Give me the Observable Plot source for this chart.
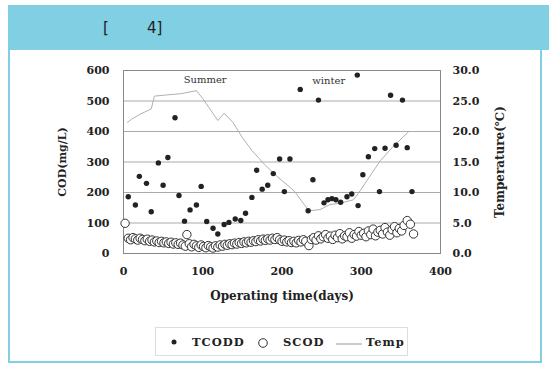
<!DOCTYPE html>
<html>
<head>
<meta charset="utf-8">
<script src="https://cdn.jsdelivr.net/npm/d3@7"></script>
<script src="https://cdn.jsdelivr.net/npm/@observablehq/plot@0.6"></script>
<style>
  body { margin:0; width:549px; height:369px; position:relative; background:#fff; overflow:hidden; }
  #box { position:absolute; left:8px; top:5px; width:534px; height:358px; border:2px solid #80cfe3; box-sizing:border-box; }
  #hdr { position:absolute; left:8px; top:5px; width:541px; height:45px; background:#80cfe3; }
  #hdr span { position:absolute; left:95px; top:14px; font-family:"DejaVu Sans", sans-serif; font-size:15px; color:#222; white-space:pre; }
  #chart { position:absolute; left:0; top:50px; }
  #legend { position:absolute; left:155px; top:327px; width:253px; height:29px; border:1px solid #ddd; box-sizing:border-box;
            font-family:"DejaVu Serif", serif; font-weight:bold; font-size:11.5px; letter-spacing:1px; color:#222; }
  #legend .it { position:absolute; top:7px; }
</style>
</head>
<body>
<div id="box"></div>
<div id="hdr"><span>[        4]</span></div>
<div id="chart"></div>
<div id="legend">
  <svg class="it" style="left:14px;top:10px" width="8" height="8"><circle cx="4" cy="4" r="2.5" fill="#222"/></svg>
  <span class="it" style="left:36px">TCODD</span>
  <svg class="it" style="left:101px;top:9px" width="12" height="12"><circle cx="6" cy="6" r="4.3" fill="#fff" stroke="#333"/></svg>
  <span class="it" style="left:127px">SCOD</span>
  <svg class="it" style="left:180px;top:10px" width="28" height="8"><line x1="0" y1="6" x2="26" y2="6" stroke="#999"/></svg>
  <span class="it" style="left:210px">Temp</span>
</div>
<script>
// ---- data ----
const xTicks = [0, 100, 200, 300, 400];
const codTicks = [0, 100, 200, 300, 400, 500, 600];

const tcoddDays = [6,15,20,29,35,44,50,56,65,70,77,84,92,98,105,113,119,127,133,141,148,154,162,168,175,182,189,197,203,210,223,233,239,246,253,258,263,268,274,282,288,295,296,302,309,317,323,330,337,344,352,358,364];
const tcoddVals = [186,159,253,230,137,297,224,315,445,190,106,143,159,220,105,83,64,95,102,113,108,132,184,273,211,224,262,310,203,310,538,140,242,503,166,176,180,176,168,186,195,585,157,258,317,344,203,345,519,355,503,347,203];

const scodDays = [2,6,9,12,15,18,21,24,27,30,33,36,39,42,45,48,51,54,57,60,63,66,69,72,75,78,80,83,86,89,92,95,98,101,104,107,110,113,116,119,122,125,128,131,134,137,140,143,146,149,152,155,158,161,164,167,170,173,176,179,182,185,188,191,194,197,200,203,206,209,212,215,218,221,224,227,230,234,237,240,243,246,249,252,255,258,261,264,267,270,273,276,279,282,285,288,291,294,297,300,303,306,309,312,315,318,321,324,327,330,333,336,339,342,345,348,351,354,358,362,366];
const scodVals = [99,50,45,52,48,44,50,46,42,47,40,44,38,41,36,40,35,38,33,37,31,35,30,34,28,24,62,32,22,30,25,20,28,23,19,26,22,18,25,21,28,24,30,27,32,29,34,31,36,33,38,35,40,37,42,39,45,41,47,43,48,44,50,46,52,45,40,44,38,42,36,40,35,43,38,45,40,26,46,52,44,58,48,55,62,50,57,46,60,52,65,48,58,55,68,50,62,57,72,60,66,55,74,62,80,58,70,76,64,85,70,60,78,88,68,82,74,92,108,96,64];

const tempDays = [5,10,22,35,39,55,73,92,100,110,119,127,138,150,162,178,195,215,234,248,260,275,290,296,310,324,340,360];
const tempVals = [21.5,22,22.9,23.7,25.8,26,26.2,26.7,25.4,23.5,21.8,23.0,21.5,19,16.9,14.6,12.5,10.3,7.0,7.2,8.0,8.3,8.8,9.8,12.5,15.2,17.5,20];

const noteText = ["Summer", "winter"];
const noteDays = [103, 259];
const noteCod = [568, 565];

// ---- tables ----
const tcodd = tcoddDays.map((d, i) => ({day: d, cod: tcoddVals[i]}));
const scod = scodDays.map((d, i) => ({day: d, cod: scodVals[i]}));
const temp = tempDays.map((d, i) => ({day: d, t: tempVals[i]}));
const notes = noteText.map((t, i) => ({text: t, day: noteDays[i], cod: noteCod[i]}));

const chart = Plot.plot({
  width: 549,
  height: 260,
  marginLeft: 123,
  marginRight: 109,
  marginTop: 20,
  marginBottom: 57,
  style: {fontFamily: "'DejaVu Serif', serif", fontSize: "12px", fontWeight: "bold", color: "#222", background: "transparent"},
  x: {domain: [0, 400]},
  y: {domain: [0, 600]},
  marks: [
    Plot.gridY(codTicks.filter(d => d > 0 && d < 600), {stroke: "#aaa", strokeOpacity: 1}),
    Plot.frame({stroke: "#888"}),
    Plot.axisX(xTicks, {tickSize: 0, tickPadding: 14, label: null, fontSize: 11}),
    Plot.axisY(codTicks, {anchor: "left", tickSize: 0, tickPadding: 14, label: null, fontSize: 11}),
    Plot.axisY(codTicks, {anchor: "right", tickSize: 0, tickPadding: 12, label: null, fontSize: 11, tickFormat: d => (d / 20).toFixed(1)}),
    Plot.text(["Operating time(days)"], {frameAnchor: "bottom", dy: 46, fontSize: 12}),
    Plot.text(["COD(mg/L)"], {frameAnchor: "left", rotate: -90, dx: -61, fontSize: 11, textAnchor: "middle"}),
    Plot.text(["Temperature(\u2103)"], {frameAnchor: "right", rotate: -90, dx: 60, fontSize: 12, textAnchor: "middle"}),
    Plot.line(temp, {x: "day", y: d => d.t * 20, stroke: "#b0b0b0", strokeWidth: 1}),
    Plot.dot(scod, {x: "day", y: "cod", r: 4.2, fill: "#fff", stroke: "#333", strokeWidth: 1}),
    Plot.dot(tcodd, {x: "day", y: "cod", r: 2.7, fill: "#222", stroke: null}),
    Plot.text(notes, {x: "day", y: "cod", text: "text", fontSize: 10, fontWeight: "normal", fill: "#333"})
  ]
});
document.getElementById("chart").appendChild(chart);
</script>
</body>
</html>
